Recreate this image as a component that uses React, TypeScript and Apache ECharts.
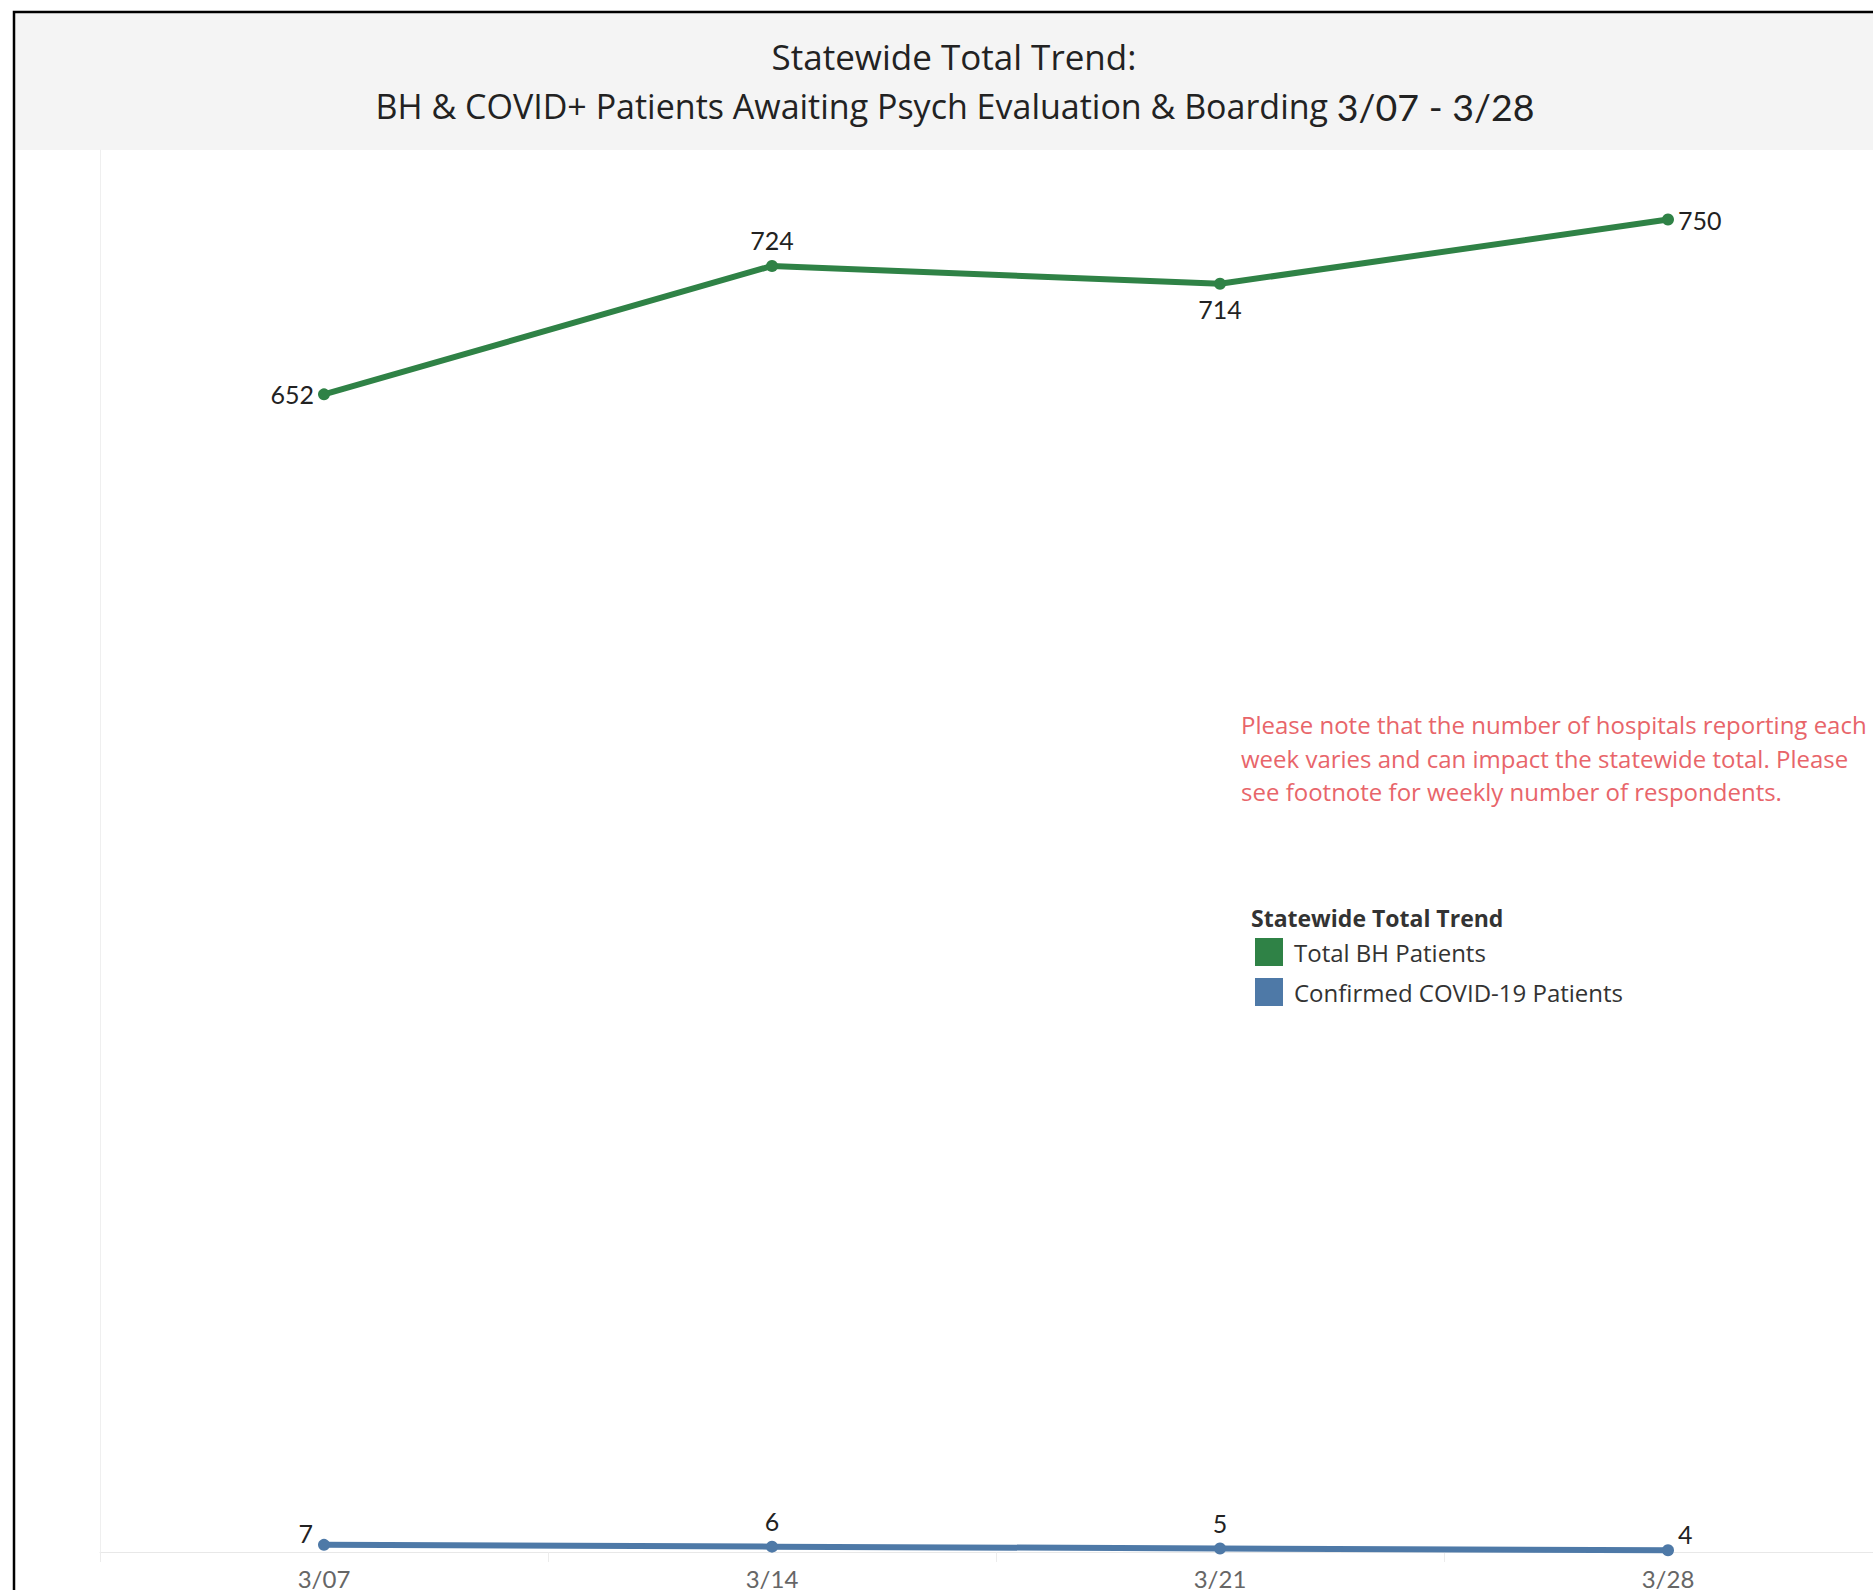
import React, { useEffect, useRef } from "react";
import * as echarts from "echarts";

// Weekly reporting dates
const weeks = ["3/07", "3/14", "3/21", "3/28"];

// Statewide totals per week
const totalBH = [652, 724, 714, 750];
const confirmedCovid = [7, 6, 5, 4];

const seriesNames = ["Total BH Patients", "Confirmed COVID-19 Patients"];

const titleLine1 = "Statewide Total Trend:";
const titleLine2 = "BH & COVID+ Patients Awaiting Psych Evaluation & Boarding ";
const titleRange = "3/07 - 3/28";
const legendTitle = "Statewide Total Trend";
const noteText =
  "Please note that the number of hospitals reporting each\nweek varies and can impact the statewide total. Please\nsee footnote for weekly number of respondents.";

const TEXT_FONT = "'Open Sans', 'Noto Sans', sans-serif";
const NUM_FONT = "Lato, 'Open Sans', sans-serif";
const GREEN = "#2f8246";
const BLUE = "#4e79a7";

// Where each point's value label sits
const bhLabelPos = ["left", "top", "bottom", "right"];
const covidLabelPos = ["left", "top", "top", "right"];
const covidLabelOffset = [[2, -12], [0, 0], [0, 0], [-3, -16]];

export default function App() {
  const ref = useRef<HTMLDivElement>(null);

  useEffect(() => {
    if (!ref.current) return;
    const chart = echarts.init(ref.current, undefined, { renderer: "svg" });

    const labelStyle = { fontSize: 25, color: "#222", fontFamily: NUM_FONT };

    const bhData = totalBH.map((v, i) => ({
      value: v,
      label: { show: true, position: bhLabelPos[i], distance: i === 0 || i === 3 ? 4 : 7, ...labelStyle },
    }));
    const covidData = confirmedCovid.map((v, i) => ({
      value: v,
      label: {
        show: true,
        position: covidLabelPos[i],
        distance: 7,
        offset: covidLabelOffset[i],
        ...labelStyle,
      },
    }));

    chart.setOption({
      animation: false,
      textStyle: { fontFamily: TEXT_FONT },
      grid: { left: 100, top: 150, width: 1792, height: 1403, containLabel: false },
      xAxis: {
        type: "category",
        data: weeks,
        boundaryGap: true,
        axisLine: { show: true, lineStyle: { color: "#e8e8e8", width: 1 } },
        axisTick: { show: true, length: 10, lineStyle: { color: "#ececec", width: 1 } },
        axisLabel: { color: "#666", fontSize: 24, lineHeight: 22, margin: 15, fontFamily: NUM_FONT },
        splitLine: { show: false },
      },
      yAxis: {
        type: "value",
        min: 3,
        max: 789,
        axisLine: { show: true, lineStyle: { color: "#efefef", width: 1 } },
        axisTick: { show: false },
        axisLabel: { show: false },
        splitLine: { show: false },
      },
      legend: {
        data: seriesNames,
        orient: "vertical",
        left: 1255,
        top: 938,
        padding: 0,
        itemWidth: 28,
        itemHeight: 28,
        itemGap: 12,
        icon: "rect",
        selectedMode: false,
        itemStyle: { borderWidth: 0 },
        textStyle: { fontSize: 24, color: "#333", fontFamily: TEXT_FONT, padding: [0, 0, 0, 6] },
      },
      graphic: [
        {
          type: "rect",
          z: -10,
          shape: { x: 14, y: 12, width: 1880, height: 138 },
          style: { fill: "#f4f4f4" },
        },
        {
          type: "rect",
          z: 100,
          shape: { x: 14, y: 12, width: 1900, height: 1620 },
          style: { fill: "none", stroke: "#000", lineWidth: 2.5 },
        },
        {
          type: "text",
          x: 954,
          y: 56,
          style: {
            text: titleLine1,
            fontSize: 35,
            fontFamily: TEXT_FONT,
            fill: "#222",
            align: "center",
            verticalAlign: "middle",
          },
        },
        {
          type: "text",
          x: 955,
          y: 106,
          style: {
            text: `{a|${titleLine2}}{b|${titleRange}}`,
            align: "center",
            verticalAlign: "middle",
            rich: {
              a: { fontSize: 34, fontFamily: TEXT_FONT, fill: "#222" },
              b: { fontSize: 37.5, fontFamily: NUM_FONT, fill: "#222" },
            },
          },
        },
        {
          type: "text",
          x: 1241,
          y: 708,
          style: {
            text: noteText,
            fontSize: 24,
            lineHeight: 33.5,
            fontFamily: TEXT_FONT,
            fill: "#e8656a",
            align: "left",
            verticalAlign: "top",
          },
        },
        {
          type: "text",
          x: 1251,
          y: 918,
          style: {
            text: legendTitle,
            fontSize: 23,
            fontWeight: "bold",
            fontFamily: TEXT_FONT,
            fill: "#333",
            align: "left",
            verticalAlign: "middle",
          },
        },
      ],
      series: [
        {
          name: seriesNames[0],
          type: "line",
          data: bhData,
          symbol: "circle",
          symbolSize: 12,
          showSymbol: true,
          color: GREEN,
          itemStyle: { color: GREEN },
          lineStyle: { color: GREEN, width: 6 },
          z: 3,
        },
        {
          name: seriesNames[1],
          type: "line",
          data: covidData,
          symbol: "circle",
          symbolSize: 12,
          showSymbol: true,
          color: BLUE,
          itemStyle: { color: BLUE },
          lineStyle: { color: BLUE, width: 6 },
          z: 3,
        },
      ],
    });

    return () => chart.dispose();
  }, []);

  return (
    <div
      style={{
        position: "absolute",
        left: 0,
        top: 0,
        width: 1873,
        height: 1590,
        overflow: "hidden",
        background: "#fff",
      }}
    >
      <div ref={ref} style={{ width: 1900, height: 1590 }} />
    </div>
  );
}
